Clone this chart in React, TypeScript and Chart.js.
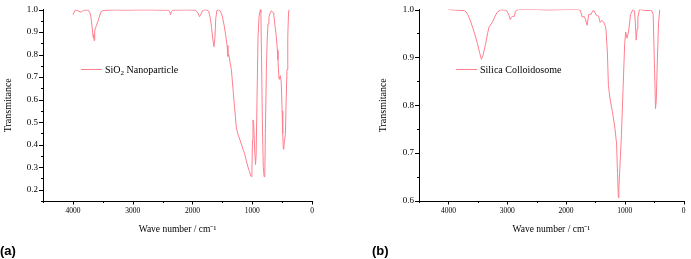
import React, { useEffect, useRef } from "react";
import { Chart, registerables } from "chart.js";

Chart.register(...registerables);

// ---------- data ----------
const sio2Label = "SiO₂ Nanoparticle";
const sio2Wavenumber = [
  4000, 3960, 3920, 3880, 3860, 3830, 3780, 3740, 3715, 3700, 3690, 3670, 3660, 3652, 3645, 3635, 3620,
  3605, 3585, 3560, 3530, 3500, 3450, 3300, 3100, 2900, 2700, 2500, 2400, 2380, 2370, 2360, 2350, 2330,
  2100, 1950, 1910, 1880, 1860, 1830, 1800, 1760, 1730, 1700, 1680, 1660, 1640, 1625, 1610, 1590, 1560,
  1540, 1520, 1500, 1470, 1444, 1420, 1406, 1395, 1385, 1370, 1349, 1322, 1294, 1265, 1238, 1210, 1182,
  1155, 1126, 1100, 1071, 1045, 1026, 1014, 1005, 995, 987, 975, 960, 945, 935, 920, 903, 885, 864, 855,
  845, 830, 815, 800, 790, 780, 763, 750, 736, 720, 708, 695, 680, 665, 650, 641, 620, 596, 580, 569, 552,
  540, 529, 515, 500, 490, 479, 470, 462, 445, 432, 418, 405, 392, 385,
];
const sio2Transmittance = [
  0.977, 0.997, 0.995, 0.99, 0.988, 0.996, 0.998, 0.996, 0.985, 0.97, 0.95, 0.9, 0.875, 0.89, 0.862, 0.905, 0.92,
  0.93, 0.945, 0.965, 0.99, 0.995, 0.996, 0.998, 0.997, 0.998, 0.998, 0.997, 0.997, 0.99, 0.978, 0.985, 0.99, 0.997,
  0.998, 0.997, 0.985, 0.968, 0.978, 0.995, 0.998, 0.998, 0.993, 0.96, 0.92, 0.87, 0.835, 0.87, 0.96, 0.997, 0.998,
  0.995, 0.985, 0.97, 0.93, 0.886, 0.84, 0.792, 0.8, 0.79, 0.765, 0.734, 0.648, 0.561, 0.474, 0.446, 0.425, 0.403,
  0.38, 0.359, 0.33, 0.301, 0.28, 0.262, 0.258, 0.29, 0.42, 0.51, 0.49, 0.38, 0.312, 0.35, 0.6, 0.879, 0.97, 1.0, 0.99,
  0.8, 0.5, 0.3, 0.257, 0.26, 0.45, 0.734, 0.86, 0.936, 0.965, 0.98, 0.985, 0.995, 0.99, 0.985, 0.982, 0.93, 0.879, 0.82, 0.777, 0.691,
  0.7, 0.706, 0.68, 0.55, 0.45, 0.38, 0.39, 0.417, 0.446, 0.6, 0.734, 0.88, 0.99, 1.0,
];

const colloidLabel = "Silica Colloidosome";
const colloidWavenumber = [
  4000, 3900, 3800, 3730, 3700, 3673, 3630, 3589, 3550, 3506, 3470, 3439, 3410, 3366, 3330, 3311, 3255, 3210,
  3172, 3115, 3040, 3005, 2970, 2948, 2925, 2910, 2882, 2860, 2810, 2500, 2300, 2000, 1800, 1755, 1725, 1697,
  1669, 1641, 1613, 1574, 1546, 1519, 1486, 1446, 1419, 1391, 1362, 1330, 1319, 1296, 1279, 1252, 1212, 1169,
  1140, 1124, 1110, 1100, 1085, 1057, 1028, 1002, 985, 962, 935, 902, 861, 835, 820, 806, 790, 778, 751, 650,
  560, 539, 518, 494, 478, 465, 451, 427, 406,
];
const colloidTransmittance = [
  1.0, 0.999, 0.998, 0.998, 0.995, 0.99, 0.978, 0.963, 0.948, 0.929, 0.91, 0.896, 0.905, 0.929, 0.952, 0.963, 0.973, 0.985,
  0.994, 0.999, 0.999, 0.997, 0.988, 0.979, 0.984, 0.986, 0.985, 0.996, 1.0, 1.0, 0.999, 1.0, 1.0, 0.998, 0.984, 0.986,
  0.98, 0.967, 0.99, 0.99, 0.997, 0.997, 0.988, 0.986, 0.973, 0.977, 0.974, 0.965, 0.956, 0.909, 0.841, 0.814, 0.787, 0.753,
  0.719, 0.658, 0.607, 0.63, 0.668, 0.739, 0.841, 0.929, 0.953, 0.94, 0.955, 0.99, 1.0, 0.997, 0.97, 0.936, 0.96, 0.984, 1.0, 0.998,
  0.998, 0.997, 0.99, 0.875, 0.793, 0.81, 0.875, 0.97, 1.0,
];

const xTitle = "Wave number / cm⁻¹";
const yTitle = "Transmitance";
const LINE = "#ff7f8f";
const SERIF = "'Liberation Serif', 'Times New Roman', serif";

const tickMarks = {
  id: "tickMarks",
  afterDraw(chart: any) {
    const ctx = chart.ctx;
    const area = chart.chartArea;
    const xs = chart.scales.x;
    const ys = chart.scales.y;
    ctx.save();
    ctx.strokeStyle = "#000";
    ctx.lineWidth = 1;
    xs.ticks.forEach((t: any) => {
      const major = Math.round(t.value) % 1000 === 0;
      const p = Math.round(xs.getPixelForValue(t.value)) + 0.5;
      const b = Math.round(area.bottom);
      ctx.beginPath();
      ctx.moveTo(p, b);
      ctx.lineTo(p, b + (major ? 3.5 : 2));
      ctx.stroke();
    });
    ys.ticks.forEach((t: any) => {
      const major = Math.round(t.value * 100) % 10 === 0;
      const p = Math.round(ys.getPixelForValue(t.value)) + 0.5;
      const l = Math.round(area.left);
      ctx.beginPath();
      ctx.moveTo(l, p);
      ctx.lineTo(l - (major ? 4 : 2), p);
      ctx.stroke();
    });
    ctx.restore();
  },
};

function makeConfig(
  label: string,
  xs: number[],
  ys: number[],
  yMin: number,
  yAxisWidth: number,
  yTitlePad: number,
  rightPad: number
): any {
  return {
    type: "line",
    data: {
      datasets: [
        {
          label,
          data: xs.map((x, i) => ({ x, y: ys[i] })),
          borderColor: LINE,
          borderWidth: 1,
          pointRadius: 0,
          tension: 0,
          fill: false,
        },
      ],
    },
    options: {
      responsive: false,
      animation: false,
      layout: { padding: { left: 0, top: 5, right: rightPad, bottom: 0 } },
      plugins: { legend: { display: false }, tooltip: { enabled: false } },
      scales: {
        x: {
          type: "linear",
          reverse: true,
          min: 0,
          max: 4500,
          grid: { display: false, drawTicks: false },
          border: { display: true, color: "#000", width: 1 },
          ticks: {
            stepSize: 500,
            maxTicksLimit: 30,
            autoSkip: false,
            maxRotation: 0,
            padding: 5.5,
            color: "#000",
            font: { family: SERIF, size: 7.5, lineHeight: 1.2 },
            callback: (v: number) => (Math.round(v) % 1000 === 0 ? String(Math.round(v)) : ""),
          },
          title: {
            display: true,
            text: xTitle,
            color: "#000",
            font: { family: SERIF, size: 9.5, lineHeight: 1.2 },
            padding: { top: 0, bottom: 24.3 },
          },
          afterFit: (s: any) => {
            s.height = 58;
          },
        },
        y: {
          type: "linear",
          min: yMin,
          max: 1.0,
          grid: { display: false, drawTicks: false },
          border: { display: true, color: "#000", width: 1 },
          ticks: {
            stepSize: 0.05,
            maxTicksLimit: 30,
            autoSkip: false,
            padding: 5,
            color: "#000",
            font: { family: SERIF, size: 9, lineHeight: 1 },
            callback: (v: number) => (Math.round(v * 100) % 10 === 0 ? v.toFixed(1) : ""),
          },
          title: {
            display: true,
            text: yTitle,
            color: "#000",
            font: { family: SERIF, size: 10, lineHeight: 1.2 },
            padding: { top: yTitlePad, bottom: 0 },
          },
          afterFit: (s: any) => {
            s.width = yAxisWidth;
          },
        },
      },
    },
    plugins: [tickMarks],
  };
}

function Panel(props: {
  left: number;
  width: number;
  config: any;
}) {
  const ref = useRef<HTMLCanvasElement | null>(null);
  useEffect(() => {
    if (!ref.current) return;
    const chart = new Chart(ref.current, props.config);
    return () => chart.destroy();
  }, []);
  return (
    <canvas
      ref={ref}
      width={props.width}
      height={259}
      style={{ position: "absolute", left: props.left, top: 0, width: props.width, height: 259 }}
    />
  );
}

function Legend(props: { left: number; children: React.ReactNode; lineWidth: number }) {
  return (
    <>
      <div
        style={{
          position: "absolute",
          left: props.left,
          top: 69,
          width: props.lineWidth,
          height: 1,
          background: LINE,
        }}
      />
      <div
        style={{
          position: "absolute",
          left: props.left + props.lineWidth + 3,
          top: 63,
          height: 14,
          lineHeight: "14px",
          fontFamily: SERIF,
          fontSize: 10,
          color: "#000",
          whiteSpace: "nowrap",
        }}
      >
        {props.children}
      </div>
    </>
  );
}

export default function App() {
  const cfgA = makeConfig(sio2Label, sio2Wavenumber, sio2Transmittance, 0.15, 43, 2, 28);
  const cfgB = makeConfig(colloidLabel, colloidWavenumber, colloidTransmittance, 0.6, 74, 32, 3);
  return (
    <div
      style={{
        position: "fixed",
        left: 0,
        top: 0,
        width: 691,
        height: 259,
        background: "#fff",
        overflow: "hidden",
      }}
    >
      <Panel left={0} width={340} config={cfgA} />
      <Panel left={345} width={346} config={cfgB} />
      <Legend left={81} lineWidth={21}>
        SiO<sub style={{ fontSize: 7, verticalAlign: "-2px" }}>2</sub> Nanoparticle
      </Legend>
      <Legend left={456} lineWidth={21}>
        {colloidLabel}
      </Legend>
      <div
        style={{
          position: "absolute",
          left: 0,
          top: 243,
          fontFamily: "'Liberation Sans', Arial, sans-serif",
          fontWeight: "bold",
          fontSize: 13,
          lineHeight: "15px",
        }}
      >
        (a)
      </div>
      <div
        style={{
          position: "absolute",
          left: 372,
          top: 243,
          fontFamily: "'Liberation Sans', Arial, sans-serif",
          fontWeight: "bold",
          fontSize: 13,
          lineHeight: "15px",
        }}
      >
        (b)
      </div>
    </div>
  );
}
